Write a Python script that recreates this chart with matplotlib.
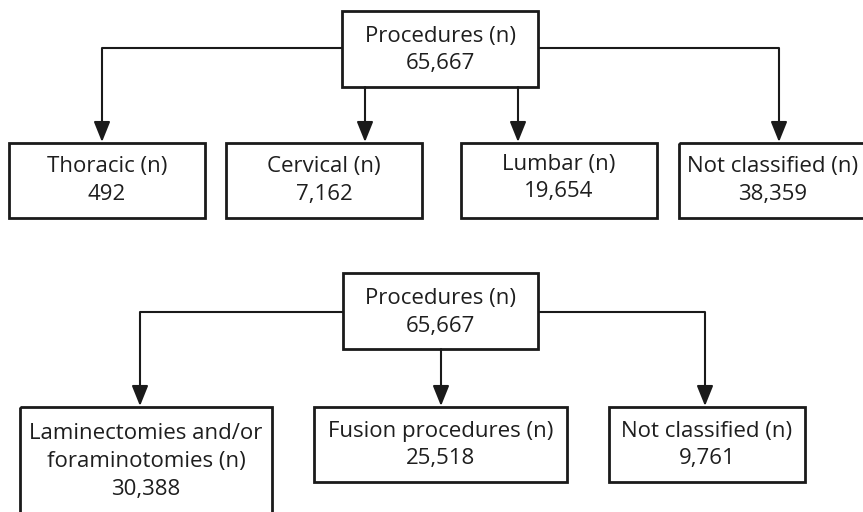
import matplotlib.pyplot as plt
from matplotlib.patches import Rectangle

# --- DATOS ---
total_label = "Procedures (n)"
total_n = 65667

region_labels = ["Thoracic (n)", "Cervical (n)", "Lumbar (n)", "Not classified (n)"]
region_n = [492, 7162, 19654, 38359]

type_labels = ["Laminectomies and/or\nforaminotomies (n)", "Fusion procedures (n)", "Not classified (n)"]
type_n = [30388, 25518, 9761]

# --- LAYOUT (pixels) ---
W, H = 863, 512
FONT = "Open Sans"
FS = 16
LINE = "#1a1a1a"

fig = plt.figure(figsize=(W / 100, H / 100), dpi=100)
ax = fig.add_axes([0, 0, 1, 1])
ax.set_xlim(0, W)
ax.set_ylim(H, 0)
ax.axis("off")


def caja(x0, x1, y0, y1, texto, ty):
    ax.add_patch(Rectangle((x0, y0), x1 - x0, y1 - y0, fill=False,
                           edgecolor=LINE, linewidth=2.0, clip_on=False))
    ax.text((x0 + x1) / 2, ty, texto, ha="center", va="center", fontsize=FS,
            family=FONT, color="#1e1e1e", linespacing=1.42)


def flecha(x, y0, y1):
    ax.annotate("", xy=(x, y1), xytext=(x, y0),
                arrowprops=dict(arrowstyle="-|>,head_length=0.62,head_width=0.25",
                                color=LINE, lw=1.5, shrinkA=0, shrinkB=0,
                                mutation_scale=20))


def linea(xs, ys):
    ax.plot(xs, ys, color=LINE, lw=1.5, solid_capstyle="butt")


# --- PRIMER DIAGRAMA: por región ---
caja(342, 538, 11, 87, f"{total_label}\n{total_n:,}", 50)
reg_boxes = [(9, 205), (226, 422), (461, 657), (679, 866)]
reg_arrow_x = [102, 365, 518, 779]
linea([102, 342], [48, 48])
linea([538, 779], [48, 48])
for (x0, x1), lab, n, xa in zip(reg_boxes, region_labels, region_n, reg_arrow_x):
    y_start = 48 if xa in (102, 779) else 87
    flecha(xa, y_start, 142)
    ty = 178 if lab.startswith("Lumbar") else 180.5
    caja(x0, x1, 143, 218, f"{lab}\n{n:,}", ty)

# --- SEGUNDO DIAGRAMA: por tipo ---
caja(343, 538, 273, 349, f"{total_label}\n{total_n:,}", 312.5)
type_boxes = [(20, 272, 407, 530), (314, 567, 407, 482), (609, 805, 407, 482)]
type_arrow_x = [140, 441, 705]
type_text_y = [461.5, 445, 445]
linea([140, 343], [312, 312])
linea([538, 705], [312, 312])
for (x0, x1, y0, y1), lab, n, xa, ty in zip(type_boxes, type_labels, type_n,
                                             type_arrow_x, type_text_y):
    y_start = 349 if xa == 441 else 312
    flecha(xa, y_start, 406)
    caja(x0, x1, y0, y1, f"{lab}\n{n:,}", ty)

fig.savefig("out.png", dpi=100, facecolor="white")
